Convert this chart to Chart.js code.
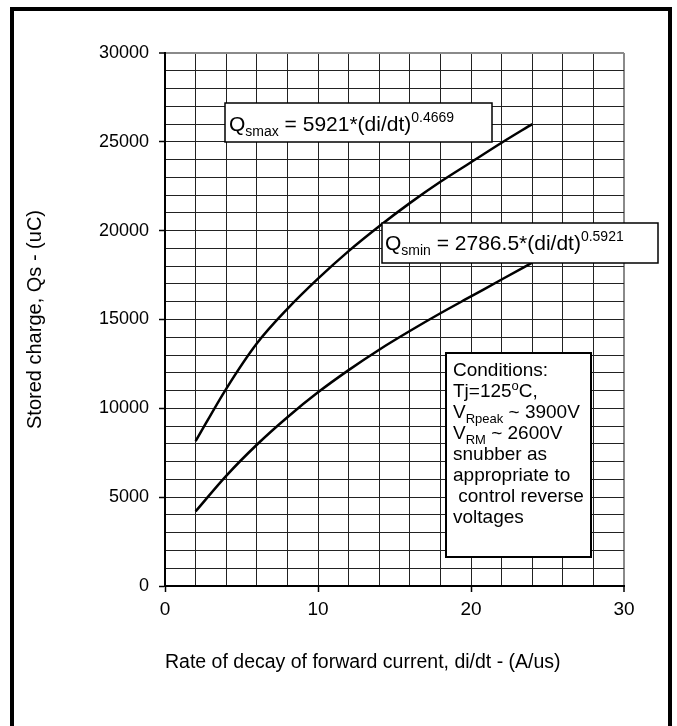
<!DOCTYPE html>
<html>
<head>
<meta charset="utf-8">
<script src="https://cdn.jsdelivr.net/npm/chart.js@4"></script>
<style>
  body { margin: 0; background: #fff; }
  canvas { display: block; }
</style>
</head>
<body>
<canvas id="qsChart" width="677" height="726"></canvas>
<script>
// di/dt (A/us) points
const rateValues = [2, 4, 6, 8, 10, 12, 14, 16, 18, 20, 22, 24];
// Qs max curve (uC)
const qsMaxValues = [8150, 11100, 13650, 15600, 17300, 18850, 20250, 21550, 22750, 23850, 24950, 26000];
// Qs min curve (uC)
const qsMinValues = [4200, 6200, 7950, 9500, 10900, 12150, 13300, 14350, 15350, 16300, 17250, 18200];
const yTickLabels = [0, 5000, 10000, 15000, 20000, 25000, 30000];
const xTickLabels = [0, 10, 20, 30];

const FONT = "'Liberation Sans', Arial, sans-serif";

function toPoints(xs, ys) {
    return xs.map((x, i) => ({ x: x, y: ys[i] }));
}

// draws a line of text made of pieces: [text, size, baseline shift]
function drawRich(ctx, x, y, parts) {
    parts.forEach(p => {
        ctx.font = p[1] + "px " + FONT;
        ctx.fillText(p[0], x, y + p[2]);
        x += ctx.measureText(p[0]).width;
    });
}

function drawBox(ctx, x1, y1, x2, y2, lw) {
    ctx.fillStyle = "#fff";
    ctx.fillRect(x1, y1, x2 - x1, y2 - y1);
    ctx.strokeStyle = "#000";
    ctx.lineWidth = lw;
    ctx.strokeRect(x1, y1, x2 - x1, y2 - y1);
}

const notesPlugin = {
    id: "notes",
    afterDraw(chart) {
        const ctx = chart.ctx;
        ctx.save();
        ctx.textBaseline = "alphabetic";
        ctx.textAlign = "left";

        // equation boxes
        drawBox(ctx, 225, 103, 492, 142, 1.5);
        ctx.fillStyle = "#000";
        drawRich(ctx, 229, 131, [["Q", 21, 0], ["smax", 14, 5], [" = 5921*(di/dt)", 21, 0], ["0.4669", 14, -9]]);

        drawBox(ctx, 382, 223, 658, 263, 1.5);
        ctx.fillStyle = "#000";
        drawRich(ctx, 385, 250, [["Q", 21, 0], ["smin", 14, 5], [" = 2786.5*(di/dt)", 21, 0], ["0.5921", 14, -9]]);

        // conditions box
        drawBox(ctx, 446, 353, 591, 557, 2);
        ctx.fillStyle = "#000";
        const lines = [
            [["Conditions:", 19, 0]],
            [["Tj=125", 19, 0], ["o", 13, -7], ["C,", 19, 0]],
            [["V", 19, 0], ["Rpeak", 13, 5], [" ~ 3900V", 19, 0]],
            [["V", 19, 0], ["RM", 13, 5], [" ~ 2600V", 19, 0]],
            [["snubber as", 19, 0]],
            [["appropriate to", 19, 0]],
            [[" control reverse", 19, 0]],
            [["voltages", 19, 0]]
        ];
        lines.forEach((parts, i) => drawRich(ctx, 453, 376 + i * 21, parts));

        // outer frame
        ctx.strokeStyle = "#000";
        ctx.lineWidth = 4;
        ctx.beginPath();
        ctx.moveTo(12, 740);
        ctx.lineTo(12, 9);
        ctx.lineTo(670, 9);
        ctx.lineTo(670, 740);
        ctx.stroke();
        ctx.restore();
    }
};

const gridColor = (edgeValue) => (context) =>
    context.tick && context.tick.value === edgeValue ? "#8a8a8a" : "#222";
const gridWidth = (edgeValue) => (context) =>
    context.tick && context.tick.value === edgeValue ? 2 : 1;

new Chart(document.getElementById("qsChart"), {
    type: "scatter",
    data: {
        datasets: [
            {
                label: "Qsmax",
                data: toPoints(rateValues, qsMaxValues),
                showLine: true,
                borderColor: "#000",
                borderWidth: 2.5,
                pointRadius: 0,
                cubicInterpolationMode: "monotone"
            },
            {
                label: "Qsmin",
                data: toPoints(rateValues, qsMinValues),
                showLine: true,
                borderColor: "#000",
                borderWidth: 2.5,
                pointRadius: 0,
                cubicInterpolationMode: "monotone"
            }
        ]
    },
    options: {
        responsive: false,
        animation: false,
        layout: { padding: { top: 53, right: 53, left: 0, bottom: 0 } },
        plugins: {
            legend: { display: false },
            tooltip: { enabled: false }
        },
        scales: {
            x: {
                type: "linear",
                min: 0,
                max: 30,
                afterFit: scale => { scale.height = 140; },
                ticks: {
                    stepSize: 2,
                    color: "#000",
                    padding: 6,
                    maxRotation: 0,
                    autoSkip: false,
                    font: { family: FONT, size: 19 },
                    callback: v => xTickLabels.includes(v) ? v : ""
                },
                grid: {
                    color: gridColor(30),
                    lineWidth: gridWidth(30),
                    tickLength: 6,
                    tickWidth: 1.5,
                    tickColor: c => xTickLabels.includes(c.tick.value) ? "#000" : "rgba(0,0,0,0)"
                },
                border: { color: "#000", width: 2 },
                title: {
                    display: true,
                    align: "start",
                    text: "Rate of decay of forward current, di/dt - (A/us)",
                    color: "#000",
                    font: { family: FONT, size: 19.5 },
                    padding: { top: 0, bottom: 52 }
                }
            },
            y: {
                min: 0,
                max: 30000,
                afterFit: scale => { scale.width = 165; },
                ticks: {
                    stepSize: 1000,
                    color: "#000",
                    padding: 10,
                    autoSkip: false,
                    font: { family: FONT, size: 18 },
                    callback: v => yTickLabels.includes(v) ? v : ""
                },
                grid: {
                    color: gridColor(30000),
                    lineWidth: gridWidth(30000),
                    tickLength: 6,
                    tickWidth: 1.5,
                    tickColor: c => yTickLabels.includes(c.tick.value) ? "#000" : "rgba(0,0,0,0)"
                },
                border: { color: "#000", width: 2 },
                title: {
                    display: true,
                    text: "Stored charge, Qs - (uC)",
                    color: "#000",
                    font: { family: FONT, size: 20 },
                    padding: { top: 23, bottom: 0 }
                }
            }
        }
    },
    plugins: [notesPlugin]
});
</script>
</body>
</html>
